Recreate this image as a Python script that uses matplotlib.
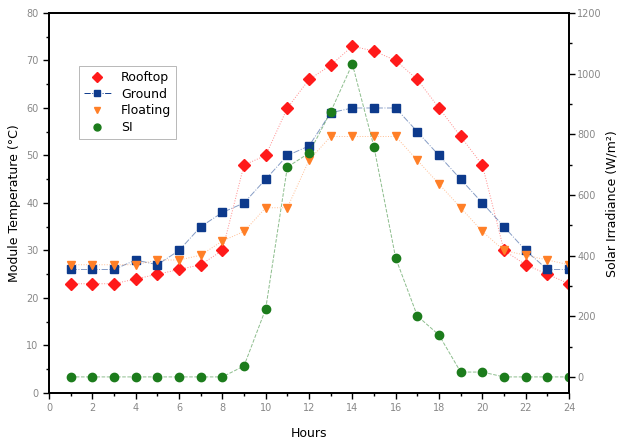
import matplotlib
matplotlib.use("Agg")
import matplotlib.pyplot as plt
from matplotlib.lines import Line2D
from matplotlib.ticker import MultipleLocator

# values
hours = list(range(1, 25))
rooftop = [23, 23, 23, 24, 25, 26, 27, 30, 48, 50, 60, 66,
           69, 73, 72, 70, 66, 60, 54, 48, 30, 27, 25, 23]
ground = [26, 26, 26, 28, 27, 30, 35, 38, 40, 45, 50, 52,
          59, 60, 60, 60, 55, 50, 45, 40, 35, 30, 26, 26]
floating = [27, 27, 27, 27, 28, 28, 29, 32, 34, 39, 39, 49,
            54, 54, 54, 54, 49, 44, 39, 34, 30, 29, 28, 27]
si = [0, 0, 0, 0, 0, 0, 0, 0, 36, 224, 692, 738,
      874, 1032, 758, 392, 201, 138, 16, 16, 0, 0, 0, 0]

fig = plt.figure(figsize=(6.22, 4.42), dpi=100)
ax = fig.add_axes([0.0788, 0.1109, 0.836, 0.8597])
ax2 = ax.twinx()

red = "#ff1a1a"
blue = "#0d3a8c"
orange = "#ff7f27"
green = "#1c7c1c"

# faint connecting lines, then markers on top
ax.plot(hours, rooftop, color=red, ls=":", lw=0.7, alpha=0.5)
ax.plot(hours, ground, color=blue, ls="-.", lw=0.7, alpha=0.5)
ax.plot(hours, floating, color=orange, ls=":", lw=0.7, alpha=0.5)
ax2.plot(hours, si, color=green, ls="--", lw=0.7, alpha=0.5)
ax.plot(hours, rooftop, color=red, marker="D", ms=6, ls="none")
ax.plot(hours, ground, color=blue, marker="s", ms=6, ls="none")
ax.plot(hours, floating, color=orange, marker="v", ms=6, ls="none")
ax2.plot(hours, si, color=green, marker="o", ms=6, ls="none")

ax.set_xlim(0, 24)
ax.set_ylim(0, 80)
ax2.set_ylim(-53, 1200)

ax.xaxis.set_major_locator(MultipleLocator(2))
ax.xaxis.set_minor_locator(MultipleLocator(1))
ax.yaxis.set_major_locator(MultipleLocator(10))
ax.yaxis.set_minor_locator(MultipleLocator(5))
ax2.yaxis.set_major_locator(MultipleLocator(200))
ax2.yaxis.set_minor_locator(MultipleLocator(100))

for a in (ax, ax2):
    a.tick_params(which="both", direction="out", labelsize=7, labelcolor="#888888", width=1)
    a.tick_params(which="major", length=4)
    a.tick_params(which="minor", length=2)
    for s in a.spines.values():
        s.set_linewidth(1.3)
ax.tick_params(top=False, right=False)
ax2.tick_params(pad=2)

ax.set_xlabel("Hours", fontsize=9, labelpad=10)
ax.set_ylabel("Module Temperature (°C)", fontsize=9)
# right label placed by hand so it stays inside the canvas
fig.text(612 / 622, 0.54, "Solar Irradiance (W/m²)", fontsize=9,
         rotation=90, ha="center", va="center")

handles = [
    Line2D([], [], color=red, marker="D", ms=5, ls="none", label="Rooftop"),
    Line2D([], [], color=blue, marker="s", ms=5, ls="-.", lw=0.7, label="Ground"),
    Line2D([], [], color=orange, marker="v", ms=5, ls="none", label="Floating"),
    Line2D([], [], color=green, marker="o", ms=5, ls="none", label="SI"),
]
leg = ax.legend(handles=handles, loc="upper left", bbox_to_anchor=(0.045, 0.877),
                fontsize=9, frameon=True, fancybox=False, edgecolor="#999999",
                handlelength=2.2, borderpad=0.4, labelspacing=0.3)
leg.get_frame().set_linewidth(0.6)

fig.savefig("out.png", dpi=100)
